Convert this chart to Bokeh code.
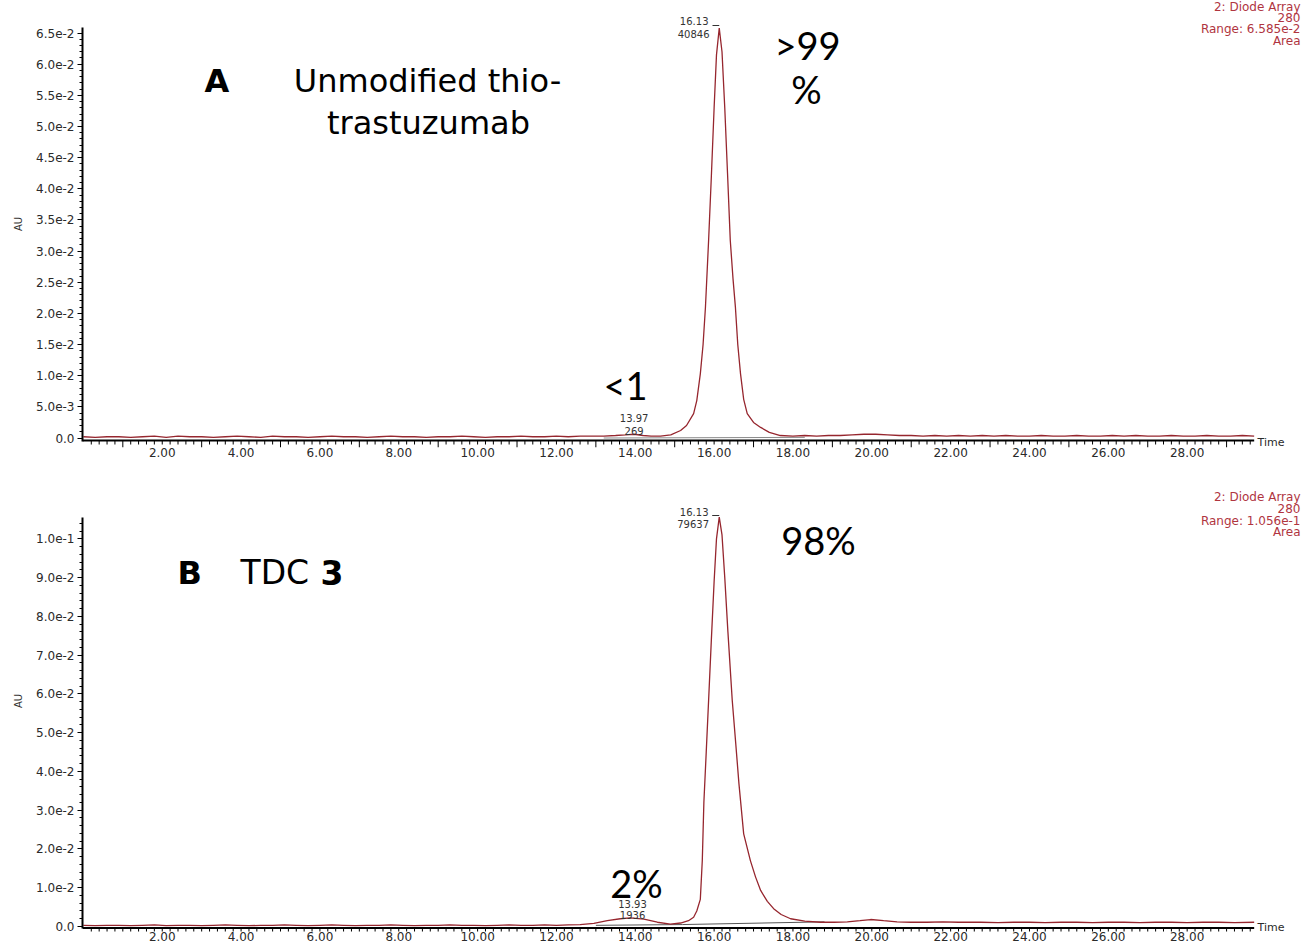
from bokeh.plotting import figure
from bokeh.layouts import column
from bokeh.models import Label, FixedTicker, CustomJSTickFormatter, NumeralTickFormatter, Range1d
from bokeh.embed import file_html
from bokeh.resources import INLINE

# ---------------- data ----------------
time_a = [
    0.00, 0.30, 0.60, 0.90, 1.20, 1.50, 1.80, 2.10, 2.40, 2.70, 3.00, 3.30, 3.60, 3.90, 4.20, 4.50, 4.80, 5.10, 5.40, 5.70,
    6.00, 6.30, 6.60, 6.90, 7.20, 7.50, 7.80, 8.10, 8.40, 8.70, 9.00, 9.30, 9.60, 9.90, 10.20, 10.50, 10.80, 11.10, 11.40, 11.70,
    12.00, 12.30, 12.60, 12.90, 13.20, 13.50, 13.75, 13.97, 14.20, 14.40, 14.64, 14.90, 15.15, 15.30, 15.48, 15.56, 15.65, 15.72, 15.78, 15.86,
    15.93, 16.00, 16.06, 16.13, 16.20, 16.27, 16.34, 16.41, 16.48, 16.54, 16.60, 16.67, 16.75, 16.84, 17.00, 17.18, 17.40, 17.68, 18.00, 18.30,
    18.60, 18.90, 19.20, 19.50, 19.80, 20.10, 20.40, 20.70, 21.00, 21.30, 21.60, 21.90, 22.20, 22.50, 22.80, 23.10, 23.40, 23.70, 24.00, 24.30,
    24.60, 24.90, 25.20, 25.50, 25.80, 26.10, 26.40, 26.70, 27.00, 27.30, 27.60, 27.90, 28.20, 28.50, 28.80, 29.10, 29.40, 29.70]
au_a = [
    0.0002, 0.0001, 0.0002, 0.0002, 0.0001, 0.0002, 0.0003, 0.0001, 0.0003, 0.0002, 0.0002, 0.0001, 0.0002, 0.0003, 0.0002, 0.0001, 0.0003, 0.0002, 0.0002, 0.0001,
    0.0002, 0.0003, 0.0002, 0.0002, 0.0001, 0.0002, 0.0003, 0.0002, 0.0002, 0.0001, 0.0002, 0.0002, 0.0003, 0.0002, 0.0001, 0.0002, 0.0002, 0.0003, 0.0002, 0.0002,
    0.0003, 0.0002, 0.0003, 0.0003, 0.0003, 0.0004, 0.0005, 0.0006, 0.0004, 0.0003, 0.0003, 0.0005, 0.0012, 0.0020, 0.0039, 0.0060, 0.0103, 0.0150, 0.0210, 0.0317,
    0.0420, 0.0530, 0.0615, 0.0658, 0.0620, 0.0530, 0.0425, 0.0317, 0.0255, 0.0210, 0.0150, 0.0103, 0.0062, 0.0039, 0.0025, 0.0017, 0.0009, 0.0004, 0.0003, 0.0004,
    0.0003, 0.0004, 0.0004, 0.0005, 0.0006, 0.0006, 0.0005, 0.0004, 0.0004, 0.0003, 0.0004, 0.0003, 0.0004, 0.0003, 0.0004, 0.0003, 0.0004, 0.0003, 0.0003, 0.0004,
    0.0003, 0.0003, 0.0004, 0.0003, 0.0003, 0.0004, 0.0003, 0.0004, 0.0003, 0.0003, 0.0004, 0.0003, 0.0003, 0.0004, 0.0003, 0.0003, 0.0004, 0.0003]

time_b = [
    0.00, 0.30, 0.60, 0.90, 1.20, 1.50, 1.80, 2.10, 2.40, 2.70, 3.00, 3.30, 3.60, 3.90, 4.20, 4.50, 4.80, 5.10, 5.40, 5.70,
    6.00, 6.30, 6.60, 6.90, 7.20, 7.50, 7.80, 8.10, 8.40, 8.70, 9.00, 9.30, 9.60, 9.90, 10.20, 10.50, 10.80, 11.10, 11.40, 11.70,
    12.00, 12.30, 12.60, 12.95, 13.29, 13.62, 13.88, 14.22, 14.56, 14.89, 15.15, 15.35, 15.48, 15.56, 15.65, 15.70, 15.74, 15.80, 15.86, 15.93,
    16.00, 16.06, 16.13, 16.20, 16.27, 16.35, 16.46, 16.55, 16.63, 16.75, 16.92, 17.05, 17.18, 17.35, 17.51, 17.70, 17.94, 18.30, 18.70, 19.05,
    19.38, 19.70, 19.97, 20.30, 20.64, 21.00, 21.40, 21.80, 22.20, 22.76, 23.20, 23.60, 24.00, 24.40, 24.80, 25.20, 25.60, 26.00, 26.40, 26.80,
    27.20, 27.60, 28.00, 28.40, 28.80, 29.20, 29.70]
au_b = [
    0.0003, 0.0002, 0.0003, 0.0003, 0.0002, 0.0003, 0.0004, 0.0002, 0.0003, 0.0003, 0.0002, 0.0003, 0.0004, 0.0003, 0.0002, 0.0003, 0.0003, 0.0004, 0.0003, 0.0002,
    0.0003, 0.0004, 0.0003, 0.0002, 0.0003, 0.0003, 0.0004, 0.0003, 0.0002, 0.0003, 0.0003, 0.0004, 0.0003, 0.0003, 0.0002, 0.0003, 0.0004, 0.0003, 0.0003, 0.0004,
    0.0003, 0.0004, 0.0005, 0.0008, 0.0015, 0.0020, 0.0022, 0.0019, 0.0011, 0.0006, 0.0009, 0.0015, 0.0024, 0.0040, 0.0070, 0.0170, 0.0320, 0.0450, 0.0583, 0.0740,
    0.0890, 0.1000, 0.1056, 0.1010, 0.0900, 0.0760, 0.0583, 0.0470, 0.0368, 0.0239, 0.0170, 0.0128, 0.0093, 0.0065, 0.0046, 0.0031, 0.0020, 0.0014, 0.0011, 0.0011,
    0.0012, 0.0015, 0.0018, 0.0015, 0.0012, 0.0011, 0.0011, 0.0012, 0.0011, 0.0011, 0.0010, 0.0011, 0.0011, 0.0010, 0.0011, 0.0011, 0.0010, 0.0011, 0.0011, 0.0010,
    0.0011, 0.0011, 0.0010, 0.0011, 0.0011, 0.0010, 0.0011]

# integration baselines
int_a_t = [13.2, 18.3]
int_a_v = [0.0000, 0.0001]
int_b_t = [13.0, 15.2, 18.8]
int_b_v = [0.0003, 0.0005, 0.0012]

# peak annotations (retention time, area, apex time)
peaks_a = [("16.13", "40846", 16.13), ("13.97", "269", 13.97)]
peaks_b = [("16.13", "79637", 16.13), ("13.93", "1936", 13.93)]
range_a = "6.585e-2"
range_b = "1.056e-1"
range_top_a = 0.06585
range_top_b = 0.1056

x_label_ticks = list(range(2, 30, 2))
x_long_ticks = list(range(1, 30, 2))
x_short_ticks = [round(0.2 * k, 2) for k in range(1, 149) if k % 10 != 5]
x_axis_end = 29.7

# ---------------- layout helpers ----------------
PX_PER_MIN = 39.42
X0 = 82.9            # canvas x of t = 0
T_START = (82 - X0) / PX_PER_MIN
T_END = T_START + 1220 / PX_PER_MIN

A_PX = 6230.0        # px per AU, panel A
A_ZERO = 437.5       # canvas y of 0 AU
A_FRAME_BOTTOM = 447.0
B_TOP = 470.0
B_PX = 3877.0
B_ZERO = 926.0
B_FRAME_BOTTOM = 931.0

def ta(px):
    return (px - X0) / PX_PER_MIN

def ya(py):
    return (A_ZERO - py) / A_PX

def yb(py):
    return (B_ZERO - py) / B_PX

TRACE = "#96262e"
RED_TXT = "#b0353f"
TXT = "#2a2a2a"

def add_label(p, x, y, text, size, font="DejaVu Sans", style="normal", align="left",
              baseline="alphabetic", color="black"):
    p.add_layout(Label(x=x, y=y, text=text, text_font=font, text_font_size=f"{size}px",
                       text_font_style=style, text_align=align, text_baseline=baseline,
                       text_color=color))

def make_panel(height, y_start, y_end, yticks, yminor, ybounds, bottom_border):
    p = figure(width=1302, height=height, output_backend="svg", toolbar_location=None,
               x_range=Range1d(T_START, T_END), y_range=Range1d(y_start, y_end),
               min_border_left=82, min_border_right=0, min_border_top=0,
               min_border_bottom=bottom_border)
    p.outline_line_color = None
    p.grid.visible = False
    p.background_fill_color = "white"
    p.border_fill_color = "white"
    xa = p.xaxis[0]
    xa.ticker = FixedTicker(ticks=x_label_ticks, minor_ticks=[])
    xa.formatter = NumeralTickFormatter(format="0.00")
    xa.axis_line_color = None
    xa.major_tick_line_color = None
    xa.minor_tick_line_color = None
    xa.major_tick_out = 0
    xa.major_tick_in = 0
    xa.minor_tick_out = 0
    xa.minor_tick_in = 0
    xa.major_label_standoff = 0
    xa.major_label_text_font = "DejaVu Sans"
    xa.major_label_text_font_size = "12px"
    xa.major_label_text_color = TXT
    yax = p.yaxis[0]
    yax.ticker = FixedTicker(ticks=yticks, minor_ticks=yminor)
    yax.formatter = CustomJSTickFormatter(code="if (Math.abs(tick) < 1e-12) return '0.0'; return tick.toExponential(1);")
    yax.bounds = ybounds
    yax.axis_line_width = 2
    yax.major_tick_out = 5
    yax.major_tick_in = 0
    yax.minor_tick_out = 3
    yax.minor_tick_in = 0
    yax.major_label_standoff = 3
    yax.major_label_text_font = "DejaVu Sans"
    yax.major_label_text_font_size = "12px"
    yax.major_label_text_color = TXT
    yax.axis_label = "AU"
    yax.axis_label_text_font = "DejaVu Sans"
    yax.axis_label_text_font_size = "10px"
    yax.axis_label_text_font_style = "normal"
    yax.axis_label_text_color = "#333333"
    yax.axis_label_standoff = 9
    return p

def draw_time_axis(p, yconv, line_py):
    # time axis line and hanging ticks, drawn inside the frame
    y_line = yconv(line_py)
    p.line([T_START, x_axis_end], [y_line, y_line], line_color="black", line_width=2)
    p.segment(x0=x_long_ticks, y0=[y_line] * len(x_long_ticks),
              x1=x_long_ticks, y1=[yconv(line_py + 7)] * len(x_long_ticks),
              line_color="black", line_width=1)
    p.segment(x0=x_short_ticks, y0=[y_line] * len(x_short_ticks),
              x1=x_short_ticks, y1=[yconv(line_py + 4)] * len(x_short_ticks),
              line_color="black", line_width=1)

# ---------------- panel A ----------------
a_ystart = ya(A_FRAME_BOTTOM)
a_yend = ya(0)
pa = make_panel(470, a_ystart, a_yend,
                [round(0.005 * k, 4) for k in range(14)],
                [round(0.001 * k, 4) for k in range(66)],
                (ya(441), range_top_a), int(470 - A_FRAME_BOTTOM))
draw_time_axis(pa, ya, 440)
pa.line(int_a_t, int_a_v, line_color="#8a8a8a", line_width=1)
pa.line(time_a, au_a, line_color=TRACE, line_width=1.3)

# peak labels A
pa.line([ta(712), peaks_a[0][2]], [ya(25), ya(25)], line_color="#333333", line_width=1)
add_label(pa, ta(708), ya(20.8), peaks_a[0][0], 10, align="right", baseline="middle", color="#333333")
add_label(pa, ta(709), ya(33), peaks_a[0][1], 10, align="right", baseline="middle", color="#333333")
add_label(pa, peaks_a[1][2], ya(417.5), peaks_a[1][0], 10, align="center", baseline="middle", color="#333333")
add_label(pa, peaks_a[1][2], ya(430), peaks_a[1][1], 10, align="center", baseline="middle", color="#333333")

add_label(pa, ta(204), ya(80), "A", 32, style="bold")
add_label(pa, ta(427), ya(80), "Unmodified thio-", 32, align="center")
add_label(pa, ta(428), ya(122), "trastuzumab", 32, align="center")
add_label(pa, ta(807), ya(44), ">99", 38, font="Lato", align="center")
add_label(pa, ta(806), ya(88), "%", 38, font="Lato", align="center")
add_label(pa, ta(625), ya(384), "<1", 38, font="Lato", align="center")
add_label(pa, ta(1257), ya(441.5), "Time", 11, baseline="middle", color=TXT)
add_label(pa, ta(1300), ya(6), "2: Diode Array", 12, align="right", baseline="middle", color=RED_TXT)
add_label(pa, ta(1300), ya(17), "280", 12, align="right", baseline="middle", color=RED_TXT)
add_label(pa, ta(1300), ya(28.5), "Range: " + range_a, 12, align="right", baseline="middle", color=RED_TXT)
add_label(pa, ta(1300), ya(40), "Area", 12, align="right", baseline="middle", color=RED_TXT)

# ---------------- panel B ----------------
b_ystart = yb(B_FRAME_BOTTOM)
b_yend = yb(B_TOP)
pb = make_panel(475, b_ystart, b_yend,
                [round(0.01 * k, 4) for k in range(11)],
                [round(0.002 * k, 4) for k in range(53)],
                (yb(928), range_top_b), int(945 - B_FRAME_BOTTOM))
draw_time_axis(pb, yb, 927.5)
pb.line(int_b_t, int_b_v, line_color="#555555", line_width=1)
pb.line(time_b, au_b, line_color=TRACE, line_width=1.3)

pb.line([ta(711.7), peaks_b[0][2]], [yb(515), yb(515)], line_color="#333333", line_width=1)
add_label(pb, ta(708), yb(511.7), peaks_b[0][0], 10, align="right", baseline="middle", color="#333333")
add_label(pb, ta(708.5), yb(523.3), peaks_b[0][1], 10, align="right", baseline="middle", color="#333333")
add_label(pb, peaks_b[1][2], yb(903), peaks_b[1][0], 10, align="center", baseline="middle", color="#333333")
add_label(pb, peaks_b[1][2], yb(914), peaks_b[1][1], 10, align="center", baseline="middle", color="#333333")

add_label(pb, ta(177), yb(572), "B", 32, style="bold")
add_label(pb, ta(240), yb(572), "TDC", 33)
add_label(pb, ta(320), yb(572), "3", 33, style="bold")
add_label(pb, ta(818), yb(539), "98%", 38, font="Lato", align="center")
add_label(pb, ta(636), yb(882), "2%", 38, font="Lato", align="center")
add_label(pb, ta(1257), yb(926.5), "Time", 11, baseline="middle", color=TXT)
add_label(pb, ta(1300), yb(496.7), "2: Diode Array", 12, align="right", baseline="middle", color=RED_TXT)
add_label(pb, ta(1300), yb(508.3), "280", 12, align="right", baseline="middle", color=RED_TXT)
add_label(pb, ta(1300), yb(520), "Range: " + range_b, 12, align="right", baseline="middle", color=RED_TXT)
add_label(pb, ta(1300), yb(531), "Area", 12, align="right", baseline="middle", color=RED_TXT)

layout = column(pa, pb, spacing=0)
open("out.html", "w").write(file_html(layout, INLINE))
